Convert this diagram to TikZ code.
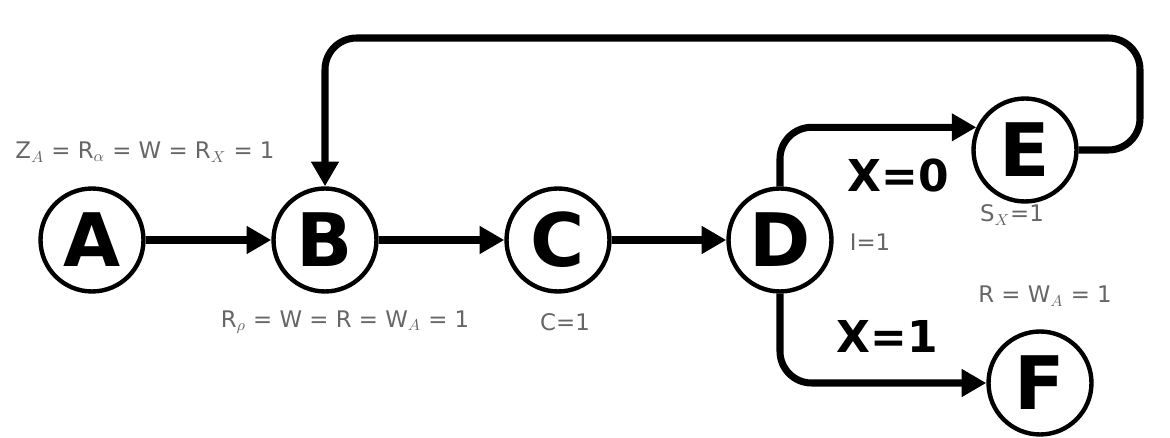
\documentclass[tikz,border=0pt]{standalone}
\usepackage{fontspec}
\setmainfont{DejaVu Sans}
\usetikzlibrary{arrows.meta}
\begin{document}
\begin{tikzpicture}[x=0.02cm,y=-0.02cm,
  st/.style={circle,draw,line width=2.5pt,minimum size=2.06cm,inner sep=0pt,font=\fontsize{42}{42}\selectfont\bfseries},
  ed/.style={line width=4pt,-{Triangle[length=14pt,width=15pt]},rounded corners=18pt},
  lab/.style={text=gray!80!black,font=\fontsize{13}{13}\selectfont},
  el/.style={font=\fontsize{25}{25}\selectfont\bfseries}]
\useasboundingbox (0,0) rectangle (1170,438);
\node[st] (A) at (92,240) {A};
\node[st] (B) at (325,240) {B};
\node[st] (C) at (558,240) {C};
\node[st] (D) at (780,240) {D};
\node[st] (E) at (1025,150) {E};
\node[st] (F) at (1040,383) {F};
\draw[ed] (A) -- (B);
\draw[ed] (B) -- (C);
\draw[ed] (C) -- (D);
\draw[ed] (D.north) |- (E.155);
\draw[ed] (D.south) |- (F.west);
\draw[ed] (E.east) -- (1140,150) -- (1140,38) -- (325,38) -- (B.north);
\node[lab] (la) at (145,152) {Z$_A$ = R$_\alpha$ = W = R$_X$ = 1};
\node[lab] (lb) at (345,322) {R$_\rho$ = W = R = W$_A$ = 1};
\node[lab] (lc) at (565,322) {C=1};
\node[lab] (ld) at (870,242) {I=1};
\node[lab] (le) at (1012,215) {S$_X$=1};
\node[lab] (lf) at (1045,296) {R = W$_A$ = 1};
\node[el] (x0) at (898,176) {X=0};
\node[el] (x1) at (887,336) {X=1};
\end{tikzpicture}
\end{document}
